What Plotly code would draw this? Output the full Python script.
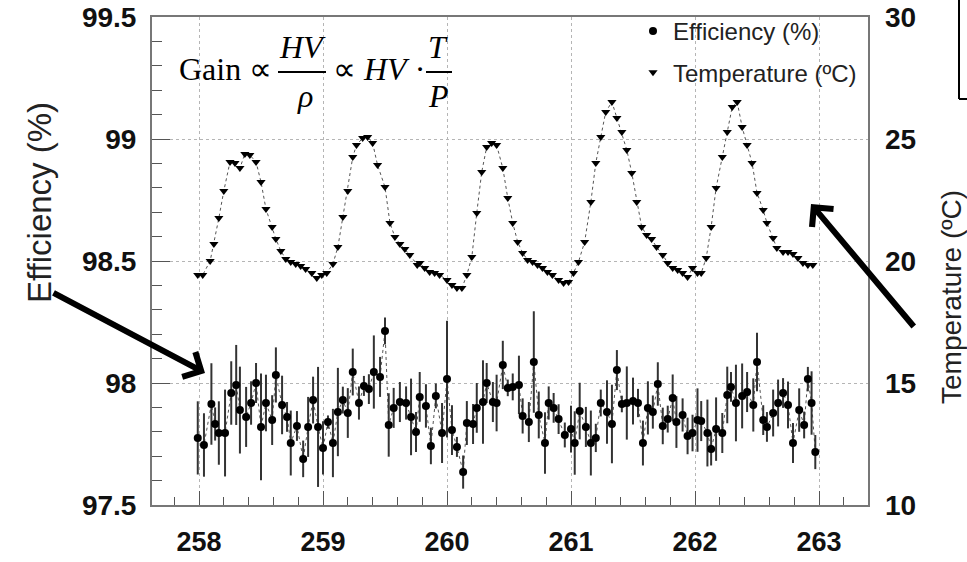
import plotly.graph_objects as go

# ---------------- data ----------------
temp_day = [
    257.99, 258.03, 258.09, 258.12, 258.16, 258.20, 258.25, 258.29, 258.33, 258.37,
    258.41, 258.46, 258.50, 258.54, 258.59, 258.62, 258.66, 258.70, 258.74, 258.78,
    258.82, 258.86, 258.91, 258.95, 258.99, 259.03, 259.08, 259.12, 259.16, 259.20,
    259.24, 259.27, 259.32, 259.36, 259.40, 259.44, 259.50, 259.54, 259.58, 259.62,
    259.66, 259.70, 259.76,
    259.78, 259.82, 259.86, 259.90, 259.94, 260.00, 260.04, 260.08, 260.12, 260.16,
    260.20, 260.24, 260.28, 260.32, 260.36, 260.40, 260.45, 260.49, 260.53, 260.57,
    260.61, 260.65, 260.69, 260.73, 260.77, 260.81, 260.85, 260.90, 260.94, 260.98,
    261.02, 261.06, 261.11, 261.16, 261.20, 261.24, 261.28, 261.33, 261.37, 261.41,
    261.45, 261.49, 261.53, 261.57, 261.61, 261.65, 261.69, 261.74, 261.78, 261.82,
    261.86, 261.90, 261.94, 261.98, 262.02, 262.05, 262.09, 262.13, 262.17, 262.22,
    262.26, 262.30, 262.34, 262.38, 262.42, 262.46, 262.50, 262.55, 262.58, 262.63,
    262.66, 262.71, 262.75, 262.79, 262.83, 262.87, 262.91, 262.95,
]
temp_c = [
    19.43, 19.43, 20.00, 20.70, 21.76, 22.87, 24.06, 24.02, 23.81, 24.39,
    24.34, 24.06, 23.24, 22.13, 21.39, 20.90, 20.41, 20.08, 19.96, 19.88,
    19.80, 19.67, 19.51, 19.30, 19.43, 19.51, 19.88, 20.57, 21.80, 22.87,
    24.26, 24.75, 25.04, 25.08, 24.84, 23.93, 23.03, 21.56, 20.98, 20.70,
    20.49, 20.25, 19.84,
    19.92, 19.71, 19.55, 19.51, 19.43, 19.22, 19.02, 18.89, 18.89, 19.43,
    20.16, 21.97, 23.65, 24.67, 24.84, 24.75, 23.81, 22.58, 21.56, 20.78,
    20.33, 20.04, 19.96, 19.84, 19.71, 19.55, 19.43, 19.22, 19.10, 19.14,
    19.51, 19.96, 20.78, 22.42, 24.02, 25.08, 26.11, 26.52, 25.86, 25.29,
    24.55, 23.61, 22.42, 21.39, 21.07, 20.90, 20.57, 20.25, 19.92, 19.71,
    19.63, 19.51, 19.34, 19.71, 19.51, 19.51, 20.12, 21.39, 22.99, 24.26,
    25.29, 26.31, 26.52, 25.49, 24.75, 24.02, 22.79, 22.09, 21.56, 20.94,
    20.53, 20.37, 20.37, 20.29, 20.12, 19.92, 19.84, 19.84,
]

eff_day = [
    257.99, 258.04, 258.10, 258.13, 258.16, 258.21, 258.26, 258.30, 258.33, 258.38,
    258.42, 258.46, 258.50, 258.54, 258.59, 258.62, 258.67, 258.71, 258.74, 258.79,
    258.84, 258.88, 258.92, 258.96, 259.00, 259.04, 259.08, 259.12, 259.16, 259.20,
    259.24, 259.29, 259.33, 259.37, 259.41, 259.46, 259.50, 259.53, 259.57, 259.62,
    259.67, 259.71, 259.75, 259.78, 259.83, 259.87, 259.91, 259.96, 260.00, 260.04,
    260.08, 260.13, 260.16,
    260.21, 260.24, 260.29, 260.32, 260.37, 260.40, 260.45, 260.49, 260.53, 260.58,
    260.61, 260.66, 260.70, 260.74, 260.79, 260.82, 260.86, 260.90, 260.95, 261.00,
    261.03, 261.07, 261.12, 261.16, 261.20, 261.24, 261.29, 261.33, 261.37, 261.41,
    261.45, 261.50, 261.54, 261.58, 261.62, 261.66, 261.70, 261.74, 261.78, 261.82,
    261.85, 261.90, 261.94, 261.98, 262.02, 262.05, 262.10, 262.13, 262.17, 262.22,
    262.26, 262.29, 262.33, 262.38, 262.42, 262.47, 262.50,
    262.55, 262.58, 262.63, 262.67, 262.71, 262.75, 262.79, 262.84, 262.88, 262.91,
    262.94, 262.97,
]
eff_pct = [
    97.775, 97.746, 97.914, 97.832, 97.795, 97.795, 97.959, 97.992, 97.889, 97.861,
    97.918, 98.000, 97.820, 97.918, 97.848, 98.033, 97.910, 97.861, 97.754, 97.824,
    97.689, 97.820, 97.930, 97.820, 97.734, 97.840, 97.754, 97.881, 97.930, 97.877,
    98.045, 97.918, 97.988, 97.975, 98.045, 98.025, 98.213, 97.828, 97.898, 97.922,
    97.918, 97.861, 97.799, 97.943, 97.906, 97.742, 97.947, 97.795, 98.016, 97.807,
    97.738, 97.635, 97.836,
    97.832, 97.898, 97.922, 98.000, 97.922, 97.918, 98.074, 97.980, 97.984, 97.992,
    97.865, 97.840, 98.086, 97.869, 97.754, 97.918, 97.898, 97.852, 97.787, 97.811,
    97.754, 97.885, 97.820, 97.754, 97.775, 97.918, 97.881, 97.832, 98.053, 97.914,
    97.918, 97.926, 97.918, 97.754, 97.898, 97.881, 97.996, 97.824, 97.852, 97.939,
    97.840, 97.869, 97.783, 97.795, 97.848, 97.844, 97.795, 97.730, 97.811, 97.795,
    97.951, 97.984, 97.918, 97.947, 97.963, 97.910, 98.086,
    97.848, 97.820, 97.877, 97.918, 97.959, 97.910, 97.754, 97.889, 97.828, 98.016,
    97.918, 97.717,
]
eff_err = [
    0.150, 0.130, 0.167, 0.068, 0.130, 0.178, 0.130, 0.164, 0.178, 0.123,
    0.089, 0.082, 0.219, 0.116, 0.102, 0.113, 0.120, 0.061, 0.133, 0.061,
    0.075, 0.123, 0.096, 0.246, 0.109, 0.027, 0.140, 0.181, 0.055, 0.102,
    0.096, 0.068, 0.041, 0.061, 0.150, 0.082, 0.055, 0.130, 0.082, 0.082,
    0.068, 0.157, 0.082, 0.102, 0.089, 0.075, 0.051, 0.123, 0.239, 0.102,
    0.041, 0.068, 0.090,
    0.082, 0.102, 0.171, 0.082, 0.082, 0.116, 0.099, 0.034, 0.055, 0.120,
    0.072, 0.082, 0.208, 0.096, 0.126, 0.068, 0.061, 0.061, 0.051, 0.096,
    0.130, 0.116, 0.082, 0.133, 0.058, 0.055, 0.130, 0.161, 0.082, 0.034,
    0.150, 0.096, 0.058, 0.092, 0.109, 0.068, 0.089, 0.075, 0.055, 0.096,
    0.106, 0.068, 0.075, 0.075, 0.130, 0.082, 0.137, 0.068, 0.130, 0.082,
    0.116, 0.061, 0.157, 0.133, 0.082, 0.109, 0.120,
    0.061, 0.061, 0.096, 0.096, 0.061, 0.096, 0.082, 0.089, 0.055, 0.050,
    0.130, 0.070,
]

x_ticks = [258, 259, 260, 261, 262, 263]
eff_ticks = [97.5, 98, 98.5, 99, 99.5]
temp_ticks = [10, 15, 20, 25, 30]

# ---------------- layout geometry ----------------
W, H = 967, 562
L, R, T, B = 152, 868, 17, 505   # plot-area edges in pixels


def px(x):
    return (x - L) / (R - L)


def py(y):
    return (B - y) / (B - T)


SANS = "Liberation Sans, Arial, sans-serif"
SERIF = "Liberation Serif, Times New Roman, serif"

fig = go.Figure()

# efficiency: dotted connecting line, then points with error bars
fig.add_trace(go.Scatter(
    x=eff_day, y=eff_pct, mode="lines", showlegend=False, hoverinfo="skip",
    line=dict(color="#555", width=1, dash="dot"),
))
fig.add_trace(go.Scatter(
    x=eff_day, y=eff_pct, mode="markers", name="Efficiency (%)",
    marker=dict(symbol="circle", size=8, color="black"),
    error_y=dict(type="data", array=eff_err, color="#333", thickness=2, width=0),
    legendgroup="a",
))
# temperature on the right axis
fig.add_trace(go.Scatter(
    x=temp_day, y=temp_c, yaxis="y2", mode="lines", showlegend=False, hoverinfo="skip",
    line=dict(color="#555", width=1, dash="dot"),
))
fig.add_trace(go.Scatter(
    x=temp_day, y=temp_c, yaxis="y2", mode="markers", name="Temperature (ºC)",
    marker=dict(symbol="triangle-down", size=8, color="black"),
    legendgroup="b",
))

axis_line = dict(showline=True, linecolor="#777", linewidth=2, mirror=True)
grid = dict(showgrid=True, gridcolor="#b5b5b5", gridwidth=1, griddash="dot")

fig.update_layout(
    width=W, height=H,
    margin=dict(l=L, r=W - R, t=T, b=H - B, autoexpand=False),
    paper_bgcolor="white", plot_bgcolor="white",
    xaxis=dict(
        range=[257.621, 263.395], tickvals=x_ticks, automargin=False,
        ticks="inside", ticklen=14, tickwidth=1, tickcolor="#555",
        minor=dict(dtick=0.2, tick0=258, ticks="inside", ticklen=8, tickcolor="#555", showgrid=False),
        tickfont=dict(family=SANS, size=27, color="#111", weight="bold"),
        ticklabelstandoff=12, zeroline=False, **axis_line, **grid,
    ),
    yaxis=dict(
        range=[97.5, 99.5], tickvals=eff_ticks, automargin=False,
        ticks="inside", ticklen=18, tickwidth=1, tickcolor="#555",
        minor=dict(dtick=0.1, tick0=97.5, ticks="inside", ticklen=10, tickcolor="#555", showgrid=False),
        tickfont=dict(family=SANS, size=28, color="#111", weight="bold"),
        ticklabelstandoff=8, zeroline=False, **axis_line, **grid,
    ),
    yaxis2=dict(
        range=[10, 30], tickvals=temp_ticks, overlaying="y", side="right", automargin=False,
        showgrid=False, ticks="", zeroline=False,
        tickfont=dict(family=SANS, size=28, color="#111", weight="bold"),
        ticklabelstandoff=16,
    ),
    legend=dict(
        x=px(633), y=py(9), xanchor="left", yanchor="top",
        bgcolor="rgba(0,0,0,0)", borderwidth=0,
        font=dict(family=SANS, size=24, color="#222"),
        tracegroupgap=7, traceorder="grouped",
    ),
    showlegend=True,
)

ann = []
# axis titles
ann.append(dict(text="Efficiency (%)", x=px(39), y=py(203), xref="paper", yref="paper",
                showarrow=False, textangle=-90, xanchor="center", yanchor="middle",
                font=dict(family=SANS, size=33, color="#222")))
ann.append(dict(text="Temperature (ºC)", x=px(951), y=py(297), xref="paper", yref="paper",
                showarrow=False, textangle=-90, xanchor="center", yanchor="middle",
                font=dict(family=SANS, size=28, color="#222")))

# formula  Gain ∝ HV/ρ ∝ HV·T/P
ff = dict(family=SERIF, size=32, color="black")
def txt(s, x, y, anchor="left"):
    ann.append(dict(text=s, x=px(x), y=py(y), xref="paper", yref="paper", showarrow=False,
                    xanchor=anchor, yanchor="middle", font=ff))

txt("Gain ∝", 177, 69)
txt("<i>HV</i>", 302, 47, "center")
txt("<i>ρ</i>", 305, 96, "center")
txt("∝ <i>HV</i> ·", 331, 69)
txt("<i>T</i>", 438, 47, "center")
txt("<i>P</i>", 438, 96, "center")

# arrows
ann.append(dict(text="", x=px(205), y=py(373), xref="paper", yref="paper",
                ax=52 - 205, ay=292 - 373, showarrow=True, arrowhead=4,
                arrowsize=0.9, arrowwidth=6, arrowcolor="black", standoff=0))
ann.append(dict(text="", x=px(811), y=py(204), xref="paper", yref="paper",
                ax=915 - 811, ay=328 - 204, showarrow=True, arrowhead=4,
                arrowsize=0.9, arrowwidth=6, arrowcolor="black", standoff=0))
fig.update_layout(annotations=ann)

shapes = [
    # fraction bars
    dict(type="line", xref="paper", yref="paper", x0=px(278), x1=px(326), y0=py(72), y1=py(72),
         line=dict(color="black", width=2)),
    dict(type="line", xref="paper", yref="paper", x0=px(426), x1=px(452), y0=py(72), y1=py(72),
         line=dict(color="black", width=2)),
    # cropped box at the top right corner
    dict(type="line", xref="paper", yref="paper", x0=px(959), x1=px(959), y0=py(-2), y1=py(99),
         line=dict(color="black", width=2)),
    dict(type="line", xref="paper", yref="paper", x0=px(959), x1=px(970), y0=py(99), y1=py(99),
         line=dict(color="black", width=2)),
]
fig.update_layout(shapes=shapes)

fig.write_html("out.html")
